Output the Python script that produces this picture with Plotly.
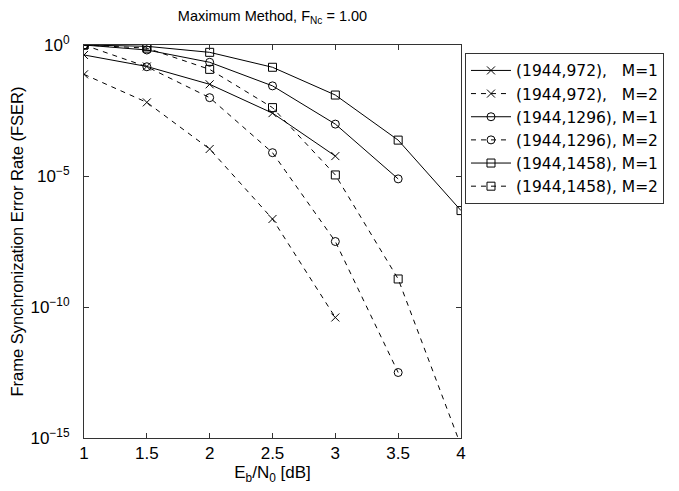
import plotly.graph_objects as go

ebn0 = [1.0, 1.5, 2.0, 2.5, 3.0, 3.5, 4.0]

# log10(FSER)
log_972_m1 = [-0.38, -0.82, -1.50, -2.60, -4.24]
log_972_m2 = [-1.12, -2.19, -3.97, -6.64, -10.40]
log_1296_m1 = [0.0, -0.19, -0.66, -1.56, -3.02, -5.11]
log_1296_m2 = [0.0, -0.83, -2.01, -4.11, -7.50, -12.50]
log_1458_m1 = [0.0, -0.05, -0.28, -0.85, -1.91, -3.63, -6.32]
log_1458_m2 = [0.0, -0.12, -0.93, -2.39, -4.96, -8.93, -15.30]

names = ["(1944,972),   M=1", "(1944,972),   M=2",
         "(1944,1296), M=1", "(1944,1296), M=2",
         "(1944,1458), M=1", "(1944,1458), M=2"]
series = [log_972_m1, log_972_m2, log_1296_m1, log_1296_m2, log_1458_m1, log_1458_m2]
symbols = ["x-thin-open", "x-thin-open", "circle-open", "circle-open", "square-open", "square-open"]
dashes = ["solid", "5px,5px", "solid", "5px,5px", "solid", "5px,5px"]

ytick_exp = [0, -5, -10, -15]
xtick_vals = [1, 1.5, 2, 2.5, 3, 3.5, 4]

fig = go.Figure()
for name, vals, sym, dash in zip(names, series, symbols, dashes):
    fig.add_trace(go.Scatter(
        x=ebn0[:len(vals)], y=[10 ** v for v in vals], name=name,
        mode="lines+markers",
        line=dict(color="black", width=1, dash=dash),
        marker=dict(symbol=sym, size=8, color="black", line=dict(width=1, color="black")),
    ))

font = "Liberation Sans, Arial, sans-serif"
axcol = "#333333"
# page body has an 8px margin, so the figure is drawn at (8, 8)
fig.update_layout(
    width=671, height=483,
    margin=dict(l=76, r=218, t=37, b=53),
    paper_bgcolor="white", plot_bgcolor="white",
    font=dict(family=font, size=17, color="black"),
    title=dict(text="Maximum Method, F<sub>Nc</sub> = 1.00", x=264.5 / 671,
               xanchor="center", y=1, yanchor="top", pad=dict(t=3, b=0),
               font=dict(size=14.5)),
    showlegend=True,
    legend=dict(x=1.0106, y=0.98, xanchor="left", yanchor="top",
                bordercolor=axcol, borderwidth=1, bgcolor="white",
                font=dict(size=15.5, family="DejaVu Sans, sans-serif"),
                tracegroupgap=0, itemwidth=40),
    xaxis=dict(range=[1, 4], tickvals=xtick_vals, ticktext=[f"{v:g}" for v in xtick_vals],
               ticks="inside", ticklen=5, tickcolor=axcol, showline=True, linecolor=axcol,
               mirror="ticks", showgrid=False, zeroline=False, automargin=False,
               tickfont=dict(size=17),
               title=dict(text="E<sub>b</sub>/N<sub>0</sub> [dB]", standoff=0, font=dict(size=17))),
    yaxis=dict(type="log", range=[-15, 0], tickvals=[10 ** e for e in ytick_exp],
               ticktext=[f"10<sup>{str(e).replace('-', '−')}</sup>" for e in ytick_exp],
               ticks="inside", ticklen=5, tickcolor=axcol, showline=True, linecolor=axcol,
               mirror="ticks", showgrid=False, zeroline=False, automargin=False,
               tickfont=dict(size=17), ticklabelstandoff=10,
               title=dict(text="Frame Synchronization Error Rate (FSER)", standoff=9,
                          font=dict(size=16.5))),
)

fig.write_html("out.html")
